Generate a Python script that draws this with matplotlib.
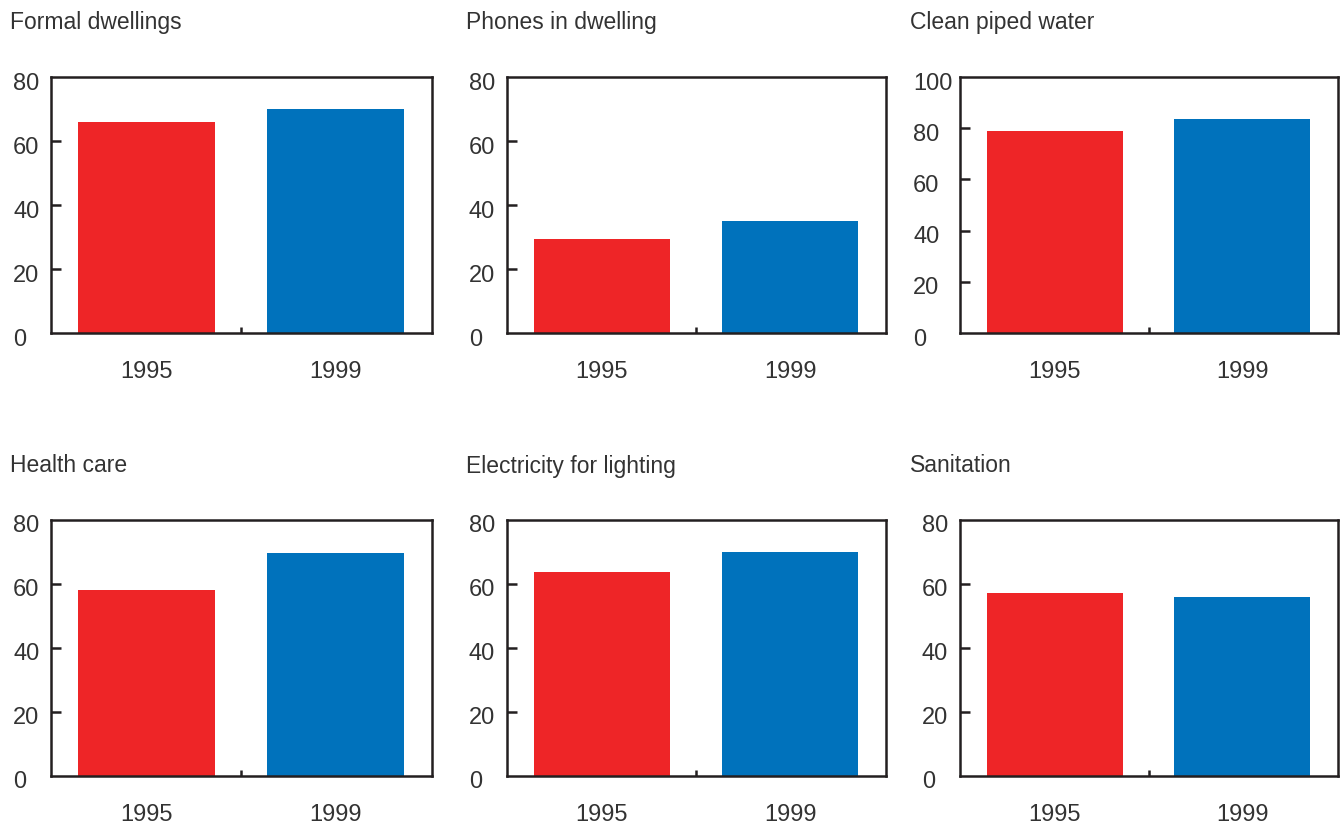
import matplotlib.pyplot as plt
import matplotlib.transforms as mtransforms
from matplotlib.ticker import FixedLocator

# Datos
titulos = ["Formal dwellings", "Phones in dwelling", "Clean piped water",
           "Health care", "Electricity for lighting", "Sanitation"]
anios = ["1995", "1999"]
valores_1995 = [66, 29.3, 78.8, 58.1, 63.8, 57.2]
valores_1999 = [70, 35, 83.6, 69.7, 70, 55.9]
ymax = [80, 80, 100, 80, 80, 80]

rojo = "#EE2527"
azul = "#0072BC"
gris = "#333333"
negro = "#231F20"

plt.rcParams["font.family"] = ["Liberation Sans", "DejaVu Sans"]

fig = plt.figure(figsize=(13.43, 8.26), dpi=100)
W, H = 1343, 826

# posiciones en pixeles (izquierda, arriba) de cada eje
lefts = [51, 507, 960]
tops = [77, 520]
anchos = [381, 379, 378]
alto = 256
titulo_x = [10, 466, 910]
titulo_y = [22, 466]

bajar = mtransforms.ScaledTranslation(0, -4 / 100, fig.dpi_scale_trans)

for i, titulo in enumerate(titulos):
    fila, col = divmod(i, 3)
    l, t = lefts[col], tops[fila]
    ancho = anchos[col]
    ax = fig.add_axes([l / W, 1 - (t + alto) / H, ancho / W, alto / H])
    ax.bar([0, 1], [valores_1995[i], valores_1999[i]], width=0.725,
           color=[rojo, azul])
    ax.set_xlim(-0.505, 1.51)
    ax.set_ylim(0, ymax[i])
    ax.set_yticks(range(0, ymax[i] + 1, 20))
    ax.set_xticks([0, 1])
    ax.set_xticklabels(anios)
    ax.xaxis.set_minor_locator(FixedLocator([0.5]))
    # etiquetas del eje y alineadas a la izquierda
    pad_px = 47 if ymax[i] >= 100 else 38
    ax.tick_params(axis="y", direction="in", length=7, width=1.8,
                   labelsize=17, labelcolor=gris, pad=pad_px * 0.72,
                   color=negro)
    ax.tick_params(axis="x", which="major", length=0, labelsize=17,
                   labelcolor=gris, pad=20)
    ax.tick_params(axis="x", which="minor", direction="in", length=4.5,
                   width=1.8, color=negro)
    ticks = ax.yaxis.get_major_ticks()
    for tk in (ticks[0], ticks[-1]):
        tk.tick1line.set_visible(False)
    for lab in ax.get_yticklabels():
        lab.set_horizontalalignment("left")
        lab.set_transform(lab.get_transform() + bajar)
    for s in ax.spines.values():
        s.set_linewidth(1.8)
        s.set_color(negro)
    fig.text(titulo_x[col] / W, 1 - titulo_y[fila] / H, titulo,
             fontsize=16.5, color=gris, va="center", ha="left")

fig.savefig("out.png", dpi=100)
